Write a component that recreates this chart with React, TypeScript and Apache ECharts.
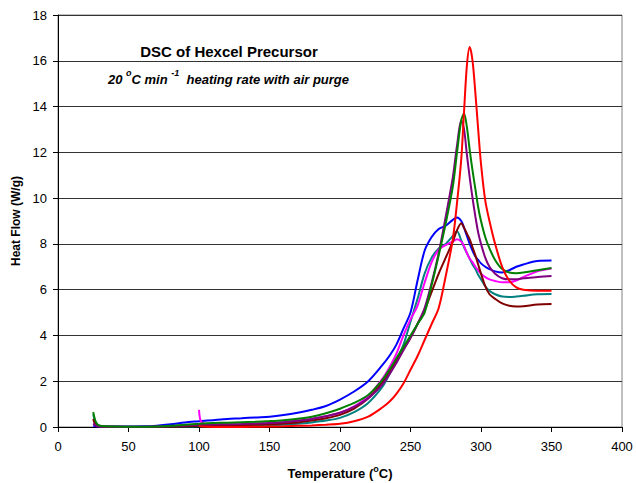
import React, { useEffect, useRef } from "react";
import * as echarts from "echarts";

const temps = [
  25, 27, 30, 40, 50, 60, 70, 80, 90,
  100, 102,
  110, 120, 130, 140, 150, 160, 170, 180, 190, 200,
  210, 220, 230,
  235, 240, 245, 250, 255, 260, 265, 270, 275, 280,
  283, 286, 288, 290, 292, 294, 296, 298, 300,
  303, 306, 310, 315, 320, 325, 330, 340, 350,
];

const blueRun = [
  0.05, 0.03, 0.02, 0.02, 0.02, 0.03, 0.06, 0.12, 0.2,
  0.25, 0.26,
  0.3, 0.35, 0.38, 0.42, 0.45, 0.52, 0.62, 0.75, 0.92, 1.2,
  1.55, 2.0, 2.7,
  3.1, 3.6, 4.3, 5.0, 6.4, 7.7, 8.3, 8.65, 8.8, 9.05,
  9.15, 9.0, 8.7, 8.35, 8.0, 7.7, 7.45, 7.3, 7.15,
  7.0, 6.9, 6.8, 6.75, 6.85, 7.0, 7.1, 7.25, 7.27,
];

const redRun = [
  null, null, null, null, null, null, null, null, null,
  0.05, 0.02,
  0.0, 0.0, 0.0, 0.01, 0.02, 0.03, 0.05, 0.07, 0.1, 0.14,
  0.25, 0.45, 0.85,
  1.1, 1.45, 1.9, 2.5, 3.1, 3.8, 4.5, 5.2, 6.6, 8.2,
  9.8, 11.7, 13.8, 15.8, 16.6, 16.0, 14.6, 13.0, 11.5,
  9.9, 9.0, 8.0, 7.0, 6.4, 6.1, 6.0, 5.95, 5.95,
];

const greenRun = [
  0.65, 0.2, 0.05, 0.02, 0.01, 0.01, 0.02, 0.05, 0.1,
  0.14, 0.15,
  0.17, 0.19, 0.21, 0.23, 0.26, 0.3, 0.36, 0.45, 0.6, 0.8,
  1.05, 1.4, 2.05,
  2.5, 3.0, 3.5, 4.0, 4.5, 5.0, 6.2, 7.5, 8.9, 10.5,
  12.0, 13.4, 13.7, 13.1, 12.1, 11.2, 10.4, 9.6, 9.0,
  8.3, 7.8, 7.3, 6.9, 6.75, 6.72, 6.75, 6.85, 6.95,
];

const purpleRun = [
  0.15, 0.05, 0.02, 0.01, 0.01, 0.01, 0.02, 0.04, 0.07,
  0.1, 0.1,
  0.11, 0.12, 0.13, 0.15, 0.17, 0.21, 0.27, 0.35, 0.47, 0.62,
  0.88, 1.25, 1.85,
  2.3, 2.8, 3.35, 3.9, 4.5, 5.2, 6.3, 7.6, 9.2, 10.9,
  12.3, 13.4, 13.0, 11.9, 10.9, 10.0, 9.2, 8.5, 8.0,
  7.4, 7.0, 6.7, 6.5, 6.45, 6.45, 6.5, 6.55, 6.6,
];

const maroonRun = [
  0.35, 0.06, 0.02, 0.01, 0.0, 0.0, 0.01, 0.02, 0.03,
  0.05, 0.05,
  0.06, 0.07, 0.08, 0.1, 0.12, 0.15, 0.2, 0.28, 0.38, 0.53,
  0.8, 1.25, 1.95,
  2.4, 2.9, 3.4, 3.9, 4.5, 5.1, 5.9, 6.7, 7.4, 8.1,
  8.6, 8.9, 8.7, 8.45, 8.2, 7.85, 7.5, 7.1, 6.7,
  6.15, 5.8, 5.6, 5.4, 5.3, 5.27, 5.28, 5.35, 5.37,
];

const magentaRun = [
  null, null, null, null, null, null, null, null, null,
  0.75, 0.2,
  0.12, 0.12, 0.13, 0.15, 0.18, 0.22, 0.28, 0.36, 0.47, 0.62,
  0.9, 1.35, 2.1,
  2.6, 3.2, 4.0, 4.7, 5.3, 6.3, 7.2, 7.75, 7.95, 8.1,
  8.2, 8.1, 7.9, 7.6, 7.35, 7.2, 7.0, 6.85, 6.7,
  6.55, 6.45, 6.38, 6.32, 6.32, 6.4, 6.55, 6.8, 6.92,
];

const tealRun = [
  0.55, 0.15, 0.03, 0.01, 0.01, 0.01, 0.01, 0.02, 0.02,
  0.03, 0.03,
  0.04, 0.05, 0.06, 0.07, 0.08, 0.1, 0.14, 0.2, 0.28, 0.4,
  0.65, 1.05, 1.75,
  2.3, 2.9, 3.6, 4.6, 5.6, 6.7, 7.4, 7.8, 8.0, 8.35,
  8.55, 8.15, 7.85, 7.6, 7.35, 7.1, 6.9, 6.65, 6.45,
  6.15, 5.95, 5.8, 5.7, 5.68, 5.7, 5.73, 5.8, 5.81,
];

const runs = [
  { name: "Run 1", color: "#0000FF", values: blueRun },
  { name: "Run 2", color: "#008080", values: tealRun },
  { name: "Run 3", color: "#FF00FF", values: magentaRun },
  { name: "Run 4", color: "#800000", values: maroonRun },
  { name: "Run 5", color: "#800080", values: purpleRun },
  { name: "Run 6", color: "#008000", values: greenRun },
  { name: "Run 7", color: "#FF0000", values: redRun },
];

const FONT = "'Liberation Sans', Arial, sans-serif";

export default function App() {
  const ref = useRef<HTMLDivElement>(null);
  useEffect(() => {
    if (!ref.current) return;
    const chart = echarts.init(ref.current, null, { renderer: "svg" });
    const series = runs.map((r) => ({
      name: r.name,
      type: "line",
      showSymbol: false,
      smooth: 0.3,
      lineStyle: { color: r.color, width: 2 },
      itemStyle: { color: r.color },
      data: temps
        .map((t, i) => [t, r.values[i]])
        .filter((p) => p[1] !== null),
    }));
    chart.setOption({
      animation: false,
      backgroundColor: "#ffffff",
      textStyle: { fontFamily: FONT },
      grid: {
        left: 58,
        right: 14,
        top: 15,
        bottom: 56,
        outerBoundsMode: "none",
        containLabel: false,
        show: true,
        borderColor: "#808080",
        borderWidth: 1,
      },
      xAxis: {
        type: "value",
        min: 0,
        max: 400,
        interval: 50,
        name: "{n|Temperature (}{s|o}{n|C)}",
        nameLocation: "middle",
        nameGap: 37,
        nameTextStyle: {
          fontFamily: FONT,
          fontWeight: "bold",
          fontSize: 13,
          color: "#000",
          rich: {
            n: { fontSize: 13, fontWeight: "bold", fontFamily: FONT, color: "#000", lineHeight: 16, verticalAlign: "bottom" },
            s: { fontSize: 9, fontWeight: "bold", verticalAlign: "top", fontFamily: FONT, color: "#000", lineHeight: 16 },
          },
        },
        axisLine: { lineStyle: { color: "#000", width: 1 } },
        axisTick: { show: true, length: 5, lineStyle: { color: "#000" } },
        axisLabel: { color: "#000", fontSize: 13, margin: 13, fontFamily: FONT },
        splitLine: { show: false },
      },
      yAxis: {
        type: "value",
        min: 0,
        max: 18,
        interval: 2,
        name: "Heat Flow (W/g)",
        nameLocation: "middle",
        nameGap: 36,
        nameTextStyle: { fontFamily: FONT, fontWeight: "bold", fontSize: 12, color: "#000" },
        axisLine: { show: true, lineStyle: { color: "#000", width: 1 } },
        axisTick: { show: true, length: 5, lineStyle: { color: "#000" } },
        axisLabel: { color: "#000", fontSize: 13, margin: 11, fontFamily: FONT },
        splitLine: { show: true, lineStyle: { color: "#333333", width: 1 } },
      },
      graphic: [
        {
          type: "text",
          x: 229,
          y: 51,
          style: {
            text: "DSC of Hexcel Precursor",
            font: `bold 15px ${FONT}`,
            fill: "#000",
            align: "center",
            verticalAlign: "middle",
          },
        },
        {
          type: "text",
          x: 108,
          y: 77,
          style: {
            text: "{n|20 }{s|o}{n|C min }{s|-1}{n|  heating rate with air purge}",
            fill: "#000",
            verticalAlign: "middle",
            rich: {
              n: { fontSize: 13, fontWeight: "bold", fontStyle: "italic", fontFamily: FONT, lineHeight: 17, verticalAlign: "bottom" },
              s: { fontSize: 9, fontWeight: "bold", fontStyle: "italic", fontFamily: FONT, lineHeight: 17, verticalAlign: "top" },
            },
          },
        },
      ],
      series,
    });
    return () => chart.dispose();
  }, []);
  return (
    <div
      ref={ref}
      style={{ position: "fixed", left: 0, top: 0, width: 636, height: 483, background: "#fff" }}
    />
  );
}
